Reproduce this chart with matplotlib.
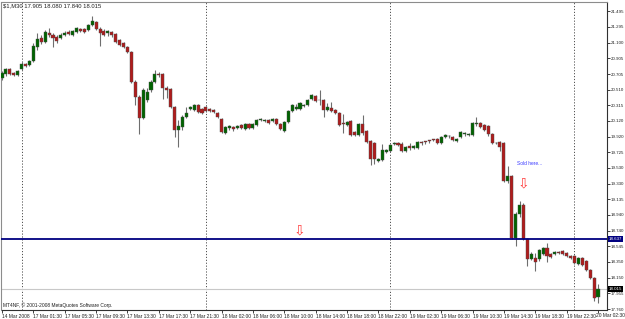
import matplotlib
matplotlib.use("Agg")
import matplotlib.pyplot as plt
import matplotlib.transforms as mtransforms
import numpy as np

# chart header / symbol info
symbol = "$1,M30"
copyright_text = "MT4NF, \u00a9 2001-2008 MetaQuotes Software Corp."
note_text = "Sold here..."

# M30 candles
opens = [20.658, 20.708, 20.770, 20.720, 20.695, 20.770, 20.833, 20.820, 20.870, 21.045,
         21.158, 21.108, 21.220, 21.195, 21.170, 21.158, 21.195, 21.233, 21.195, 21.233,
         21.270, 21.270, 21.258, 21.320, 21.358, 21.270, 21.245, 21.220, 21.233, 21.208,
         21.133, 21.095, 21.045, 20.983, 20.608, 20.420, 20.158, 20.383, 20.508, 20.608,
         20.708, 20.708, 20.533, 20.520, 20.295, 20.008, 20.045, 20.170, 20.270, 20.258,
         20.320, 20.270, 20.295, 20.270, 20.258, 20.220, 20.145, 19.970, 20.033, 20.045,
         20.033, 20.070, 20.020, 20.083, 20.033, 20.070, 20.133, 20.120, 20.133, 20.120,
         20.145, 20.083, 19.995, 20.108, 20.245, 20.270, 20.270, 20.308, 20.320, 20.395,
         20.433, 20.383, 20.383, 20.258, 20.283, 20.258, 20.220, 20.083, 20.070, 20.120,
         19.983, 19.945, 20.083, 19.995, 19.870, 19.845, 19.620, 19.633, 19.733, 19.745,
         19.833, 19.845, 19.833, 19.745, 19.808, 19.783, 19.783, 19.845, 19.858, 19.870,
         19.883, 19.895, 19.845, 19.920, 19.933, 19.920, 19.870, 19.920, 19.958, 19.945,
         19.945, 20.083, 20.095, 20.070, 20.058, 19.958, 19.845, 19.858, 19.845, 19.370,
         19.433, 18.645, 18.945, 19.070, 18.633, 18.383, 18.395, 18.383, 18.445, 18.520,
         18.445, 18.445, 18.470, 18.483, 18.458, 18.420, 18.420, 18.320, 18.395, 18.358,
         18.245, 18.145, 17.905]

highs = [20.745, 20.783, 20.783, 20.733, 20.758, 20.858, 20.845, 20.883, 21.095, 21.220,
         21.195, 21.258, 21.283, 21.220, 21.195, 21.220, 21.245, 21.258, 21.258, 21.295,
         21.283, 21.283, 21.333, 21.433, 21.370, 21.295, 21.270, 21.258, 21.245, 21.220,
         21.145, 21.108, 21.058, 20.995, 20.633, 20.445, 20.533, 20.533, 20.633, 20.758,
         20.733, 20.720, 20.558, 20.533, 20.308, 20.133, 20.195, 20.295, 20.308, 20.333,
         20.333, 20.283, 20.308, 20.283, 20.270, 20.233, 20.158, 20.058, 20.070, 20.058,
         20.070, 20.083, 20.095, 20.095, 20.095, 20.145, 20.158, 20.145, 20.145, 20.158,
         20.158, 20.095, 20.120, 20.258, 20.333, 20.333, 20.358, 20.333, 20.395, 20.458,
         20.445, 20.508, 20.395, 20.345, 20.358, 20.270, 20.233, 20.208, 20.120, 20.133,
         19.995, 20.095, 20.195, 20.008, 19.883, 19.858, 19.658, 19.833, 19.770, 19.833,
         19.858, 19.858, 19.858, 19.808, 19.845, 19.820, 19.870, 19.870, 19.870, 19.883,
         19.895, 19.908, 19.933, 19.958, 19.945, 19.933, 19.908, 19.995, 19.983, 19.970,
         20.108, 20.170, 20.108, 20.083, 20.070, 19.970, 19.858, 19.870, 19.858, 19.558,
         19.445, 18.970, 19.108, 19.083, 18.645, 18.470, 18.458, 18.508, 18.533, 18.583,
         18.458, 18.483, 18.483, 18.495, 18.470, 18.433, 18.433, 18.408, 18.408, 18.370,
         18.258, 18.158, 18.080]

lows = [20.633, 20.683, 20.695, 20.683, 20.683, 20.758, 20.795, 20.808, 20.858, 21.008,
        21.083, 21.095, 21.170, 21.045, 21.095, 21.145, 21.183, 21.195, 21.183, 21.220,
        21.233, 21.220, 21.245, 21.308, 21.258, 21.058, 21.183, 21.183, 21.170, 21.095,
        21.058, 21.033, 20.970, 20.595, 20.320, 19.958, 20.145, 20.358, 20.483, 20.595,
        20.670, 20.395, 20.408, 20.283, 19.920, 19.795, 20.008, 20.158, 20.258, 20.245,
        20.220, 20.208, 20.233, 20.233, 20.220, 20.158, 19.970, 19.958, 20.008, 19.995,
        20.020, 20.020, 20.008, 20.020, 20.020, 20.058, 20.120, 20.108, 20.083, 20.108,
        20.070, 20.008, 19.983, 20.095, 20.233, 20.258, 20.258, 20.295, 20.308, 20.383,
        20.358, 20.320, 20.170, 20.245, 20.233, 20.208, 20.058, 19.970, 20.058, 19.933,
        19.933, 19.933, 19.945, 19.845, 19.570, 19.583, 19.608, 19.620, 19.720, 19.733,
        19.820, 19.808, 19.733, 19.733, 19.758, 19.770, 19.770, 19.820, 19.833, 19.845,
        19.870, 19.833, 19.833, 19.908, 19.908, 19.870, 19.858, 19.908, 19.933, 19.933,
        19.933, 20.058, 20.033, 19.995, 19.933, 19.833, 19.833, 19.745, 19.358, 19.345,
        18.633, 18.545, 18.908, 18.620, 18.295, 18.370, 18.233, 18.358, 18.433, 18.345,
        18.395, 18.433, 18.445, 18.433, 18.408, 18.383, 18.320, 18.308, 18.295, 18.233,
        18.133, 17.858, 17.840]

closes = [20.720, 20.770, 20.708, 20.695, 20.745, 20.833, 20.808, 20.870, 21.058, 21.145,
          21.108, 21.233, 21.195, 21.158, 21.120, 21.195, 21.220, 21.208, 21.245, 21.283,
          21.245, 21.233, 21.320, 21.370, 21.270, 21.220, 21.195, 21.245, 21.195, 21.108,
          21.070, 21.045, 20.983, 20.608, 20.420, 20.158, 20.508, 20.483, 20.608, 20.708,
          20.695, 20.533, 20.508, 20.295, 20.008, 20.058, 20.170, 20.220, 20.295, 20.320,
          20.233, 20.220, 20.245, 20.245, 20.233, 20.170, 19.983, 20.045, 20.058, 20.020,
          20.058, 20.033, 20.083, 20.033, 20.083, 20.133, 20.145, 20.133, 20.095, 20.145,
          20.083, 20.020, 20.108, 20.245, 20.320, 20.295, 20.345, 20.320, 20.383, 20.445,
          20.370, 20.378, 20.258, 20.295, 20.245, 20.220, 20.070, 20.078, 20.108, 19.945,
          19.945, 20.083, 19.970, 19.858, 19.645, 19.645, 19.645, 19.758, 19.758, 19.820,
          19.845, 19.820, 19.745, 19.795, 19.783, 19.808, 19.858, 19.840, 19.852, 19.865,
          19.877, 19.845, 19.920, 19.945, 19.926, 19.883, 19.895, 19.983, 19.970, 19.958,
          20.095, 20.089, 20.045, 20.008, 19.958, 19.845, 19.839, 19.795, 19.370, 19.433,
          18.645, 18.945, 19.070, 18.633, 18.383, 18.445, 18.345, 18.495, 18.520, 18.420,
          18.408, 18.470, 18.458, 18.445, 18.420, 18.395, 18.333, 18.395, 18.308, 18.245,
          18.145, 17.895, 18.015]

# right price scale
price_ticks = [21.495, 21.295, 21.100, 20.905, 20.705, 20.510, 20.315, 20.120, 19.920, 19.725,
               19.530, 19.330, 19.135, 18.940, 18.740, 18.545, 18.350, 18.150, 17.955, 17.760]

# time scale, one label every 8 bars
time_labels = ["14 Mar 2008", "17 Mar 01:30", "17 Mar 05:30", "17 Mar 09:30", "17 Mar 13:30",
               "17 Mar 17:30", "17 Mar 21:30", "18 Mar 02:00", "18 Mar 06:00", "18 Mar 10:00",
               "18 Mar 14:00", "18 Mar 18:00", "18 Mar 22:00", "19 Mar 02:30", "19 Mar 06:30",
               "19 Mar 10:30", "19 Mar 14:30", "19 Mar 18:30", "19 Mar 22:30", "20 Mar 02:30"]
label_step = 8

# first bar of each new day (period separators)
day_start_bars = [5, 52, 99, 146]

hline_price = 18.637   # drawn horizontal line
bid_price = 18.015     # current bid


plt.rcParams['font.family'] = ['Liberation Sans', 'DejaVu Sans']
small = 3.5
scale_fs = 3.2

fig = plt.figure(figsize=(6.25, 3.19), dpi=100)
fig.patch.set_facecolor('white')
ax = fig.add_axes([0.0024, 0.0282, 0.9688, 0.967])

o = np.array(opens)
h = np.array(highs)
l = np.array(lows)
c = np.array(closes)
idx = np.arange(len(o))

up = c >= o
body_colors = np.where(up, '#006400', '#b01c1c')
body_bottom = np.minimum(o, c)
body_height = np.maximum(np.abs(c - o), 0.008)

# wicks then bodies
ax.vlines(idx, l, h, color='#6e6e6e', lw=0.8, zorder=2)
ax.bar(idx, body_height, bottom=body_bottom, width=0.78, color=body_colors,
       edgecolor='#4a4a4a', lw=0.3, zorder=3)

# period separators
for b in day_start_bars:
    ax.axvline(b, color='#505050', lw=0.7, ls=(0, (1.2, 1.8)), zorder=1)

ax.axhline(hline_price, color='#000080', lw=1.3, zorder=4)
ax.axhline(bid_price, color='#c8c8c8', lw=0.8, zorder=1)

ax.set_xlim(-0.13, 154.3)
ax.set_ylim(17.748, 21.614)

# price axis on the right
ax.yaxis.tick_right()
ax.set_yticks(price_ticks)
ax.set_yticklabels([f"{p:.3f}" for p in price_ticks])
ax.tick_params(axis='y', direction='out', length=2, width=0.6, pad=0.8,
               labelsize=scale_fs, colors='#202020')

# time axis; the last label sits at the right edge, so it is pinned there separately
tick_pos = [i * label_step for i in range(len(time_labels))]
ax.set_xticks(tick_pos)
ax.set_xticklabels(time_labels[:-1] + [""], ha='left')
ax.tick_params(axis='x', direction='out', length=2, width=0.6, pad=0.8,
               labelsize=small, colors='#202020')
ax.text(1.0 / 0.9688 - 0.0024 / 0.9688 - 0.001, -0.011, time_labels[-1], transform=ax.transAxes,
        ha='right', va='top', fontsize=small, color='#202020', clip_on=False)

for side in ['left', 'top']:
    ax.spines[side].set_color('#8c8c8c')
    ax.spines[side].set_linewidth(0.8)
for side in ['right', 'bottom']:
    ax.spines[side].set_color('#303030')
    ax.spines[side].set_linewidth(0.8)

# price boxes on the scale
trans = mtransforms.blended_transform_factory(ax.transAxes, ax.transData)
ax.text(1.003, hline_price, f"{hline_price:.3f}", transform=trans, ha='left', va='center',
        fontsize=scale_fs, color='white', zorder=6, clip_on=False,
        bbox=dict(facecolor='#000080', edgecolor='none', pad=0.6))
ax.text(1.003, bid_price, f"{bid_price:.3f}", transform=trans, ha='left', va='center',
        fontsize=scale_fs, color='white', zorder=6, clip_on=False,
        bbox=dict(facecolor='black', edgecolor='none', pad=0.6))

# header line with last bar OHLC
ax.text(0.003, 0.993, f"{symbol} {opens[-1]:.3f} {highs[-1]:.3f} {lows[-1]:.3f} {closes[-1]:.3f}",
        transform=ax.transAxes, ha='left', va='top', fontsize=4.2, color='#202020')
ax.text(0.003, 0.006, copyright_text, transform=ax.transAxes, ha='left', va='bottom',
        fontsize=small, color='#202020')

# annotations
ax.text(131.4, 19.59, note_text, ha='left', va='center', fontsize=small, color='#3a3aff')
for xa, ya in [(75.8, 18.744), (132.9, 19.339)]:
    ax.text(xa, ya, "\u21e9", ha='center', va='center', fontsize=10, color='#ff3c3c',
            family='DejaVu Sans', zorder=5)

fig.savefig("out.png", dpi=100, facecolor='white')
